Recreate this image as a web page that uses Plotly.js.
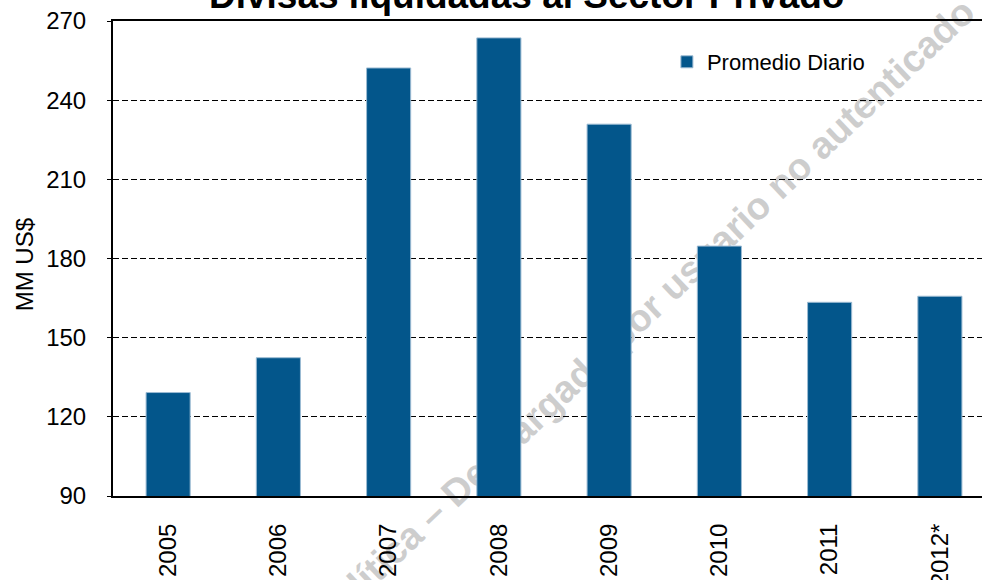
<!DOCTYPE html>
<html>
<head>
<meta charset="utf-8">
<script src="https://cdn.plot.ly/plotly-3.0.1.min.js"></script>
<style>
html, body { margin: 0; padding: 0; overflow: hidden; background: #ffffff; }
#chart { width: 995px; height: 580px; }
</style>
</head>
<body>
<div id="chart"></div>
<script>
const years = ["2005", "2006", "2007", "2008", "2009", "2010", "2011", "2012*"];
const promedioDiario = [129.2, 142.4, 252.2, 263.6, 230.9, 184.7, 163.4, 165.7];
const yTicks = [90, 120, 150, 180, 210, 240, 270];
const seriesName = "Promedio Diario";
const titleText = "Divisas liquidadas al Sector Privado";
const yTitleText = "MM US$";
const watermarkText = "Política – Descargado por usuario no autenticado";

const FONT = "Liberation Sans, Arial, sans-serif";

const trace = {
  type: "bar",
  x: years,
  y: promedioDiario,
  name: seriesName,
  width: 0.4,
  marker: { color: "#03568B", line: { color: "#9CBBD3", width: 1 } },
  hoverinfo: "x+y"
};

const layout = {
  width: 995,
  height: 580,
  margin: { l: 113, r: 0, t: 21, b: 84, pad: 0 },
  paper_bgcolor: "#ffffff",
  plot_bgcolor: "rgba(0,0,0,0)",
  font: { family: FONT, color: "#000000" },
  bargap: 0.6,
  xaxis: {
    type: "category",
    range: [-0.5, 7.5],
    showline: true,
    mirror: true,
    linecolor: "#000000",
    linewidth: 2,
    showgrid: false,
    zeroline: false,
    ticks: "",
    tickangle: -90,
    ticklabelstandoff: 16,
    tickfont: { family: FONT, size: 24, color: "#000000" },
    fixedrange: true
  },
  yaxis: {
    range: [90, 270],
    tickvals: yTicks,
    ticktext: yTicks.map(String),
    showline: true,
    mirror: true,
    linecolor: "#000000",
    linewidth: 2,
    showgrid: true,
    gridcolor: "#000000",
    gridwidth: 1,
    griddash: "6px,3px",
    zeroline: false,
    ticks: "outside",
    ticklen: 4,
    tickwidth: 1,
    tickcolor: "#000000",
    ticklabelstandoff: 16,
    tickfont: { family: FONT, size: 24, color: "#000000" },
    fixedrange: true
  },
  showlegend: true,
  legend: {
    x: 0.628,
    xanchor: "left",
    y: 0.9137,
    yanchor: "middle",
    bgcolor: "rgba(0,0,0,0)",
    borderwidth: 0,
    itemwidth: 30,
    font: { family: FONT, size: 22, color: "#000000" }
  },
  shapes: [
    {
      type: "rect",
      xref: "paper", yref: "paper",
      x0: 0.5885, x1: 0.6085, y0: 0.380, y1: 0.400,
      layer: "below",
      line: { width: 0 },
      fillcolor: "rgba(0,0,0,0)",
      label: {
        text: watermarkText,
        textangle: -43.5,
        textposition: "middle center",
        font: { family: FONT, size: 38, color: "#cdcdcd", weight: "bold" }
      }
    }
  ],
  annotations: [
    {
      text: titleText,
      xref: "paper", yref: "paper",
      x: 0.4688, y: 1.0547,
      xanchor: "center", yanchor: "middle",
      showarrow: false,
      font: { family: FONT, size: 37, color: "#000000", weight: "bold" }
    },
    {
      text: yTitleText,
      xref: "paper", yref: "paper",
      x: -0.1006, y: 0.4863,
      xanchor: "center", yanchor: "middle",
      textangle: -90,
      showarrow: false,
      font: { family: FONT, size: 24, color: "#000000" }
    }
  ]
};

Plotly.newPlot("chart", [trace], layout, { displayModeBar: false, staticPlot: true });
</script>
</body>
</html>
